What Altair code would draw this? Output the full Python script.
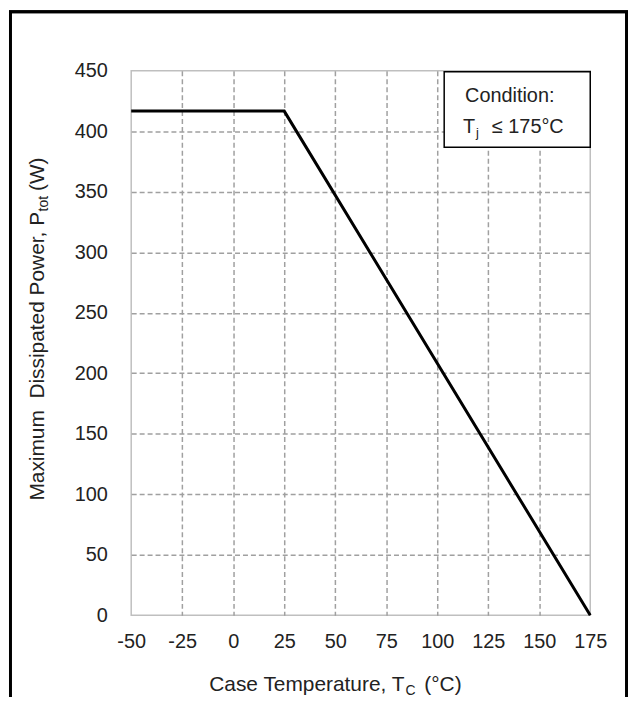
import altair as alt
import pandas as pd

# ---- data ----
case_temp = [-50, 25, 175]
max_power = [416.7, 416.7, 0]
x_ticks = [-50, -25, 0, 25, 50, 75, 100, 125, 150, 175]
y_ticks = [0, 50, 100, 150, 200, 250, 300, 350, 400, 450]

NB = "\u00a0"
y_title_main = "Maximum" + NB + NB + "Dissipated Power, P"
y_title_sub = "tot"
y_title_tail = "(W)"
x_title_main = "Case Temperature, T"
x_title_sub = "C"
x_title_tail = "(°C)"
cond_line1 = "Condition:"
cond_T = "T"
cond_sub = "j"
cond_rest = "≤ 175°C"

FONT = "Liberation Sans"
FS = 21
SUB = 14

df = pd.DataFrame({"Tc": case_temp, "Ptot": max_power})
one = pd.DataFrame({"k": [0]})

PW, PH = 462, 548

line = alt.Chart(df).mark_line(color="black", strokeWidth=3).encode(
    x=alt.X("Tc:Q",
            scale=alt.Scale(domain=[-50, 175], nice=False, zero=False),
            axis=alt.Axis(values=x_ticks, title=None, labelPadding=16, labelFlush=False,
                          labelExpr="'' + datum.value",
                          gridOpacity={"condition": {"test": "datum.value == -50 || datum.value == 175", "value": 0}, "value": 1})),
    y=alt.Y("Ptot:Q",
            scale=alt.Scale(domain=[0, 450], nice=False),
            axis=alt.Axis(values=y_ticks, title=None, labelPadding=24, labelFlush=False,
                          gridOpacity={"condition": {"test": "datum.value == 0 || datum.value == 450", "value": 0}, "value": 1})),
)


def txt(s, x, y, size=FS, align="left", angle=0, baseline="alphabetic"):
    return alt.Chart(one).mark_text(
        font=FONT, fontSize=size, color="#222222", align=align,
        baseline=baseline, angle=angle
    ).encode(x=alt.value(x), y=alt.value(y), text=alt.value(s))


# y title (rotated, reads bottom to top)
yx = -88          # baseline position (plot coords)
ysub = 142        # where the subscript begins (plot coords)
ytitle = [
    txt(y_title_main, yx, ysub, align="right", angle=270),
    txt(y_title_sub, yx + 4, ysub - 0.5, size=SUB, angle=270),
    txt(y_title_tail, yx, ysub - 21, angle=270),
]

# x title
xsub = 275
xb = 624
xtitle = [
    txt(x_title_main, xsub, xb, align="right"),
    txt(x_title_sub, xsub + 1, xb + 4, size=SUB),
    txt(x_title_tail, xsub + 20, xb),
]

# condition box
box = alt.Chart(one).mark_rect(fill="white", stroke="black", strokeWidth=1.5).encode(
    x=alt.value(315), x2=alt.value(462), y=alt.value(1), y2=alt.value(77))
cond = [
    txt(cond_line1, 381, 31, align="center", size=20),
    txt(cond_T, 334, 63, size=20),
    txt(cond_sub, 347, 67, size=13),
    txt(cond_rest, 363, 63, size=20),
]

# outer frame (left, right, top)
frame_sides = alt.Chart(one).mark_rect(fillOpacity=0, stroke="black", strokeWidth=3).encode(
    x=alt.value(-121.5), x2=alt.value(498.5), y=alt.value(-59.5), y2=alt.value(720))
frame_top = alt.Chart(one).mark_rule(color="black", strokeWidth=3).encode(
    x=alt.value(-123), x2=alt.value(500), y=alt.value(-59.5))

chart = alt.layer(line, box, *cond, *ytitle, *xtitle, frame_sides, frame_top).properties(
    width=PW, height=PH,
    background="white",
    autosize=alt.AutoSizeParams(type="none"),
    padding={"left": 124, "top": 61, "right": 38, "bottom": 80},
).configure_view(
    stroke="#bfbfbf", strokeWidth=1.5
).configure_axis(
    domain=False, ticks=False, labelFont=FONT, labelFontSize=20,
    labelColor="#222222", gridColor="#a0a0a0", gridDash=[5, 3], gridWidth=1.5,
)

chart.save("out.html", embed_options={"renderer": "svg", "actions": False})
